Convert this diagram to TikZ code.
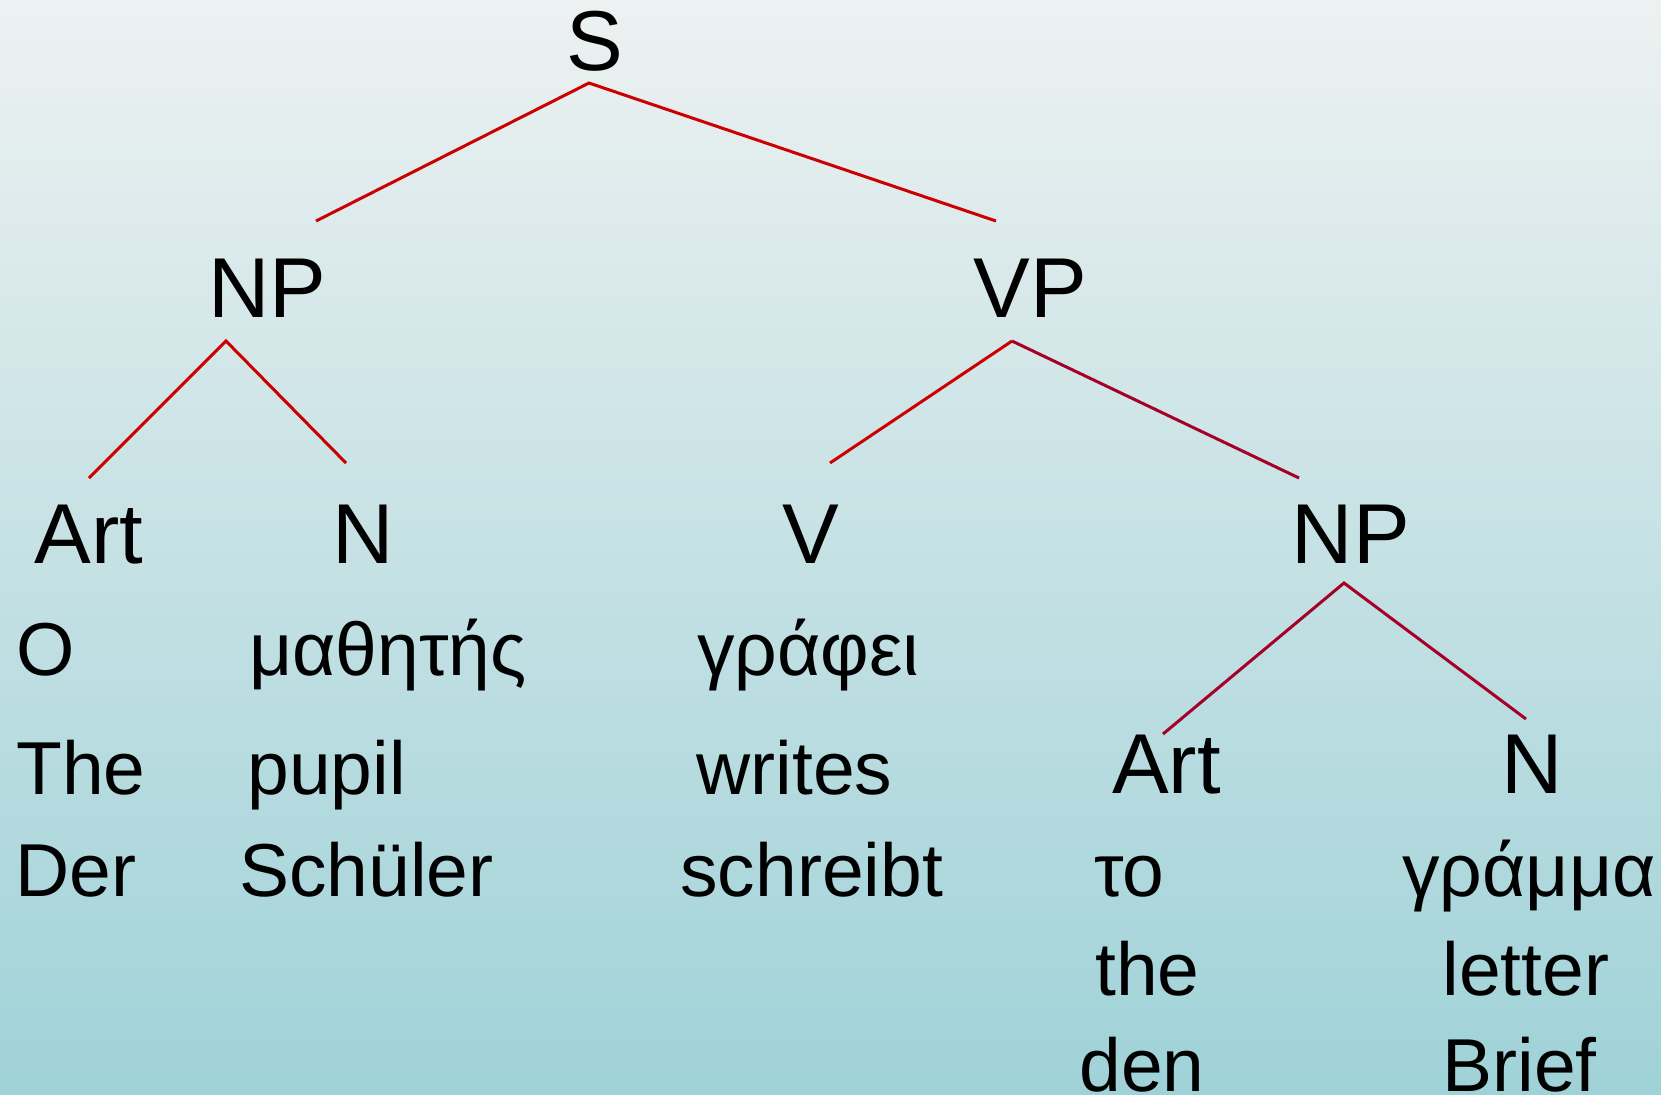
\documentclass[tikz,border=0pt]{standalone}
\usepackage{fontspec}
\setmainfont{Liberation Sans}
\definecolor{bgtop}{HTML}{EDF1F1}
\definecolor{bgbot}{HTML}{9FD2D8}
\definecolor{redline}{HTML}{CC0000}
\definecolor{darkline}{HTML}{A50028}
\tikzset{
  cat/.style={inner sep=0pt, anchor=base, font=\fontsize{42.5}{50}\selectfont},
  word/.style={inner sep=0pt, anchor=base west, font=\fontsize{37.5}{45}\selectfont},
  branch/.style={line width=1.5pt, redline},
  branchdark/.style={line width=1.5pt, darkline}
}
\begin{document}
\begin{tikzpicture}[x=0.5pt, y=-0.5pt]
\shade[top color=bgtop, bottom color=bgbot] (0,0) rectangle (1661,1094);
\useasboundingbox (0,0) rectangle (1661,1094);
% categories
\node[cat] (S) at (595,70) {S};
\node[cat] (NP) at (267.5,317) {NP};
\node[cat] (VP) at (1030,317) {VP};
\node[cat] (Art) at (89,563) {Art};
\node[cat] (N) at (363.5,563) {N};
\node[cat] (V) at (811,563) {V};
\node[cat] (NPb) at (1351,563) {NP};
\node[cat] (Artb) at (1166.5,793) {Art};
\node[cat] (Nb) at (1532.5,793) {N};
% words
\node[word] (w1) at (16,675) {Ο};
\node[word] (w2) at (16,794) {The};
\node[word] (w3) at (15,896) {Der};
\node[word] (w4) at (249,675) {μαθητής};
\node[word] (w5) at (247,794) {pupil};
\node[word] (w6) at (239,896) {Schüler};
\node[word] (w7) at (697,675) {γράφει};
\node[word] (w8) at (696,794) {writes};
\node[word] (w9) at (680,896) {schreibt};
\node[word] (w10) at (1094,896) {το};
\node[word] (w11) at (1095,995) {the};
\node[word] (w12) at (1079,1091) {den};
\node[word] (w13) at (1402,896) {γράμμα};
\node[word] (w14) at (1442,995) {letter};
\node[word] (w15) at (1442,1091) {Brief};
% branch points
\coordinate (S-top) at (589,83);
\coordinate (NP-up) at (316,221);
\coordinate (VP-up) at (996,221);
\coordinate (NP-top) at (226,341);
\coordinate (Art-up) at (89,478);
\coordinate (N-up) at (346,463);
\coordinate (VP-top) at (1012,341);
\coordinate (V-up) at (830,463);
\coordinate (NPb-up) at (1299,478);
\coordinate (NPb-top) at (1344,583);
\coordinate (Artb-up) at (1163,734);
\coordinate (Nb-up) at (1526,719);
\draw[branch] (NP-up) -- (S-top) -- (VP-up);
\draw[branch] (Art-up) -- (NP-top) -- (N-up);
\draw[branch] (V-up) -- (VP-top);
\draw[branchdark] (VP-top) -- (NPb-up);
\draw[branchdark] (Artb-up) -- (NPb-top) -- (Nb-up);
\end{tikzpicture}
\end{document}
